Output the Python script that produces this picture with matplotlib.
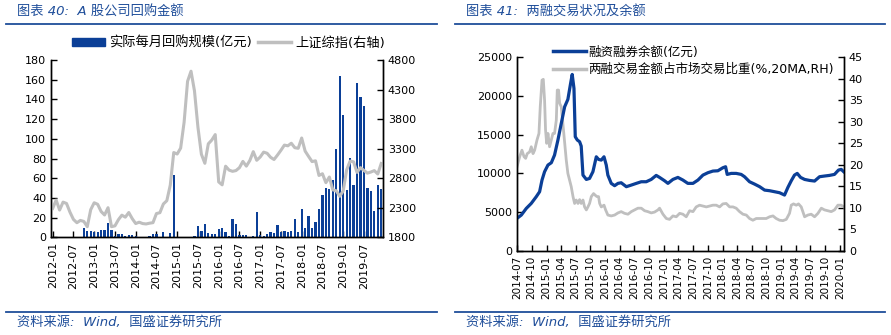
import numpy as np
import pandas as pd
import matplotlib
matplotlib.use("Agg")
import matplotlib.pyplot as plt
import matplotlib.dates as mdates
from matplotlib.lines import Line2D
from matplotlib.patches import Patch

plt.rcParams['font.family'] = ['DejaVu Sans', 'Noto Sans CJK SC']
plt.rcParams['axes.unicode_minus'] = False

BLUE = '#0B3F97'
GRAY = '#BFBFBF'
TITLE_BLUE = '#1F4E9A'

# ---- 图表40: 回购金额 (月度, 2012-01 ~ 2019-12)
buyback = [0, 0, 0, 0, 0, 0, 0, 0, 0, 9.5,
           6.4, 6.4, 5.4, 5.4, 7.4, 7.4, 14.5, 7.4, 1.4, 3.4,
           3.4, 1.4, 2.4, 2.4, 1.4, 0, 0, 0, 1.4, 3.4,
           3.4, 0, 5.4, 0, 4.4, 63.6, 0, 0, 0, 0,
           0, 1.4, 11.5, 6.8, 13.5, 4.4, 3.4, 3.4, 8.5, 9.5,
           5.4, 1.4, 18.6, 13.5, 2.4, 2.4, 2.4, 0, 1.4, 25.7,
           2.4, 1.4, 3.4, 5.4, 4.4, 12.5, 5.8, 6.4, 5.8, 6.4,
           18.6, 5.8, 28.8, 9.5, 21.7, 9.5, 15.6, 28.8, 43, 50,
           49, 58, 89.6, 163.5, 124.5, 48, 80.5, 53, 156.5, 143,
           133.5, 50, 47, 26.7, 53, 49]
shci = [2290, 2430, 2262, 2396, 2373, 2225, 2103, 2047, 2086, 2069,
        1980, 2269, 2385, 2359, 2237, 2178, 2301, 1980, 1994, 2098,
        2175, 2141, 2220, 2116, 2033, 2056, 2033, 2026, 2039, 2048,
        2202, 2217, 2364, 2420, 2683, 3235, 3210, 3310, 3748, 4441,
        4612, 4278, 3664, 3206, 3053, 3383, 3446, 3539, 2738, 2688,
        3004, 2938, 2917, 2930, 2979, 3085, 3005, 3100, 3250, 3104,
        3159, 3242, 3223, 3155, 3117, 3192, 3273, 3361, 3349, 3393,
        3317, 3307, 3481, 3259, 3169, 3082, 3095, 2847, 2876, 2725,
        2821, 2603, 2588, 2494, 2585, 2941, 3091, 3078, 2899, 2979,
        2933, 2886, 2905, 2929, 2872, 3050]
month_labels = ['2012-01', '2012-07', '2013-01', '2013-07', '2014-01', '2014-07',
                '2015-01', '2015-07', '2016-01', '2016-07', '2017-01', '2017-07',
                '2018-01', '2018-07', '2019-01', '2019-07']

# ---- 图表41: 两融余额 (亿元) 与 两融交易占比 (%)
margin_dates = ['2014-07-01', '2014-07-28', '2014-08-28', '2014-09-28', '2014-10-29', '2014-11-19',
                '2014-12-04', '2014-12-20', '2015-01-10', '2015-01-31', '2015-02-20', '2015-03-13',
                '2015-04-03', '2015-04-24', '2015-05-14', '2015-05-31', '2015-06-10', '2015-06-21',
                '2015-06-29', '2015-07-12', '2015-07-26', '2015-08-05', '2015-08-16', '2015-09-06',
                '2015-09-26', '2015-10-17', '2015-11-07', '2015-11-21', '2015-12-08', '2015-12-25',
                '2016-01-08', '2016-01-18', '2016-02-08', '2016-02-29', '2016-03-21', '2016-04-10',
                '2016-05-12', '2016-06-12', '2016-07-13', '2016-08-13', '2016-09-13', '2016-10-14',
                '2016-11-14', '2016-12-05', '2017-01-05', '2017-01-26', '2017-02-26', '2017-03-29',
                '2017-04-29', '2017-05-30', '2017-07-01', '2017-08-01', '2017-09-01', '2017-10-02',
                '2017-11-02', '2017-12-03', '2018-01-03', '2018-01-20', '2018-01-30', '2018-02-24',
                '2018-03-27', '2018-04-27', '2018-05-18', '2018-06-18', '2018-07-19', '2018-08-20',
                '2018-09-20', '2018-10-21', '2018-11-21', '2018-12-22', '2019-01-22', '2019-02-12',
                '2019-03-05', '2019-03-25', '2019-04-11', '2019-05-02', '2019-05-27', '2019-06-27',
                '2019-07-28', '2019-08-28', '2019-09-28', '2019-10-29', '2019-11-29', '2019-12-24',
                '2020-01-10', '2020-01-25']
margin_bal = [4180, 4610, 5470, 6120, 6980, 7630,
              9140, 10220, 11080, 11380, 12370, 14310,
              16470, 18620, 19570, 21640, 22800, 20990,
              14740, 14310, 14100, 13530, 9780, 9220,
              9350, 10220, 12150, 11810, 11720, 12150,
              11080, 9780, 8710, 8410, 8710, 8790,
              8280, 8490, 8710, 8920, 8920, 9220,
              9740, 9480, 9050, 8710, 9220, 9480,
              9140, 8710, 8710, 9140, 9780, 10090,
              10300, 10340, 10730, 10860, 9870, 10000,
              10000, 9870, 9570, 8920, 8620, 8280,
              7840, 7760, 7630, 7500, 7200, 8190,
              9050, 9780, 10000, 9480, 9220, 9090,
              9010, 9570, 9660, 9740, 9870, 10430,
              10520, 10220]

ratio_dates = ['2014-07-01', '2014-07-18', '2014-08-01', '2014-08-14', '2014-08-24', '2014-09-03',
               '2014-09-18', '2014-09-28', '2014-10-09', '2014-10-19', '2014-11-03', '2014-11-15',
               '2014-11-23', '2014-12-04', '2014-12-12', '2014-12-20', '2014-12-26', '2015-01-02',
               '2015-01-10', '2015-01-20', '2015-01-31', '2015-02-10', '2015-02-20', '2015-03-03',
               '2015-03-09', '2015-03-17', '2015-03-24', '2015-04-03', '2015-04-13', '2015-04-24',
               '2015-05-04', '2015-05-14', '2015-05-25', '2015-06-04', '2015-06-15', '2015-06-25',
               '2015-07-05', '2015-07-16', '2015-07-26', '2015-08-05', '2015-08-16', '2015-08-26',
               '2015-09-06', '2015-09-16', '2015-09-26', '2015-10-07', '2015-10-21', '2015-11-01',
               '2015-11-11', '2015-11-21', '2015-11-28', '2015-12-08', '2015-12-25', '2016-01-04',
               '2016-01-18', '2016-02-08', '2016-02-29', '2016-03-21', '2016-04-10', '2016-05-01',
               '2016-05-22', '2016-06-12', '2016-07-02', '2016-07-23', '2016-08-13', '2016-09-03',
               '2016-09-23', '2016-10-14', '2016-11-04', '2016-11-25', '2016-12-05', '2016-12-26',
               '2017-01-16', '2017-02-05', '2017-02-26', '2017-03-19', '2017-04-09', '2017-04-29',
               '2017-05-20', '2017-06-10', '2017-07-01', '2017-07-21', '2017-08-11', '2017-09-01',
               '2017-09-22', '2017-10-12', '2017-11-02', '2017-11-23', '2017-12-14', '2018-01-03',
               '2018-01-24', '2018-02-14', '2018-03-07', '2018-03-27', '2018-04-17', '2018-05-08',
               '2018-05-29', '2018-06-18', '2018-07-09', '2018-07-30', '2018-08-20', '2018-09-10',
               '2018-09-30', '2018-10-21', '2018-11-11', '2018-12-01', '2018-12-22', '2019-01-12',
               '2019-02-02', '2019-02-22', '2019-03-05', '2019-03-19', '2019-04-05', '2019-04-19',
               '2019-05-06', '2019-05-27', '2019-06-16', '2019-07-07', '2019-07-28', '2019-08-18',
               '2019-09-08', '2019-09-28', '2019-10-19', '2019-11-09', '2019-11-29', '2019-12-20',
               '2020-01-10', '2020-01-25']
ratio = [19.5, 21.9, 23.4, 21.9, 21.5, 22.6,
         23.0, 24.2, 22.6, 23.4, 25.8, 27.3,
         33.5, 39.7, 39.9, 35.0, 28.1, 25.0,
         27.3, 24.2, 25.8, 27.3, 27.3, 30.4,
         37.4, 37.4, 34.3, 33.5, 29.6, 25.0,
         21.1, 18.0, 16.4, 14.9, 12.6, 11.0,
         11.8, 11.0, 11.9, 11.0, 11.8, 10.2,
         9.5, 10.2, 11.0, 12.6, 13.3, 12.9,
         12.6, 12.6, 11.0, 10.2, 10.6, 9.5,
         8.3, 8.1, 8.3, 8.8, 9.1, 8.7,
         8.5, 9.1, 9.5, 9.9, 9.9, 9.3,
         9.1, 8.8, 9.0, 9.5, 9.9, 8.5,
         7.5, 7.3, 8.1, 7.9, 8.7, 8.5,
         7.9, 9.3, 9.1, 10.2, 10.6, 10.4,
         10.2, 10.4, 10.6, 10.6, 10.2, 10.9,
         11.0, 10.2, 10.2, 9.9, 9.1, 8.5,
         8.3, 7.5, 7.1, 7.5, 7.5, 7.5,
         7.5, 7.9, 8.1, 7.5, 7.1, 7.0,
         7.3, 8.7, 10.6, 10.9, 10.6, 10.9,
         10.2, 7.9, 8.3, 8.5, 7.9, 8.7,
         9.9, 9.5, 9.3, 9.1, 9.5, 10.6,
         10.6, 10.2]

fig = plt.figure(figsize=(8.91, 3.35), dpi=100)


def style_axis(ax):
    ax.spines['top'].set_visible(False)
    ax.tick_params(direction='in', length=4, width=1, labelsize=8, colors='black')
    for s in ax.spines.values():
        s.set_linewidth(1)


# ---------------- left chart ----------------
ax1 = fig.add_axes([0.0572, 0.2916, 0.3726, 0.529])
x = np.arange(len(buyback))
ax1.bar(x, buyback, width=0.65, color=BLUE, zorder=2)
ax1.set_xlim(-0.5, len(buyback) - 0.5)
ax1.set_ylim(0, 180)
ax1.set_yticks(np.arange(0, 181, 20))
ax1.set_xticks(np.arange(0, len(buyback), 6))
ax1.set_xticklabels(month_labels, rotation=90)
style_axis(ax1)

ax1r = ax1.twinx()
ax1r.plot(x, shci, color=GRAY, lw=2.2)
ax1r.set_ylim(1800, 4800)
ax1r.set_yticks(np.arange(1800, 4801, 500))
style_axis(ax1r)
ax1r.spines['top'].set_visible(False)

fig.legend(handles=[Patch(color=BLUE), Line2D([], [], color=GRAY, lw=2.5)],
           labels=['实际每月回购规模(亿元)', '上证综指(右轴)'],
           loc='center left', bbox_to_anchor=(0.073, 0.872), ncol=2, frameon=False,
           fontsize=9.5, handlelength=2.5, handleheight=0.55, handletextpad=0.3,
           columnspacing=0.5, borderpad=0)

# ---------------- right chart ----------------
ax2 = fig.add_axes([0.5802, 0.2516, 0.367, 0.577])
ax2r = ax2.twinx()
ax2r.plot(pd.to_datetime(ratio_dates), ratio, color=GRAY, lw=2.0)
ax2.plot(pd.to_datetime(margin_dates), margin_bal, color=BLUE, lw=2.3)
ax2.set_zorder(ax2r.get_zorder() + 1)
ax2.patch.set_visible(False)
ax2.set_ylim(0, 25000)
ax2.set_yticks(np.arange(0, 25001, 5000))
ax2r.set_ylim(0, 45)
ax2r.set_yticks(np.arange(0, 46, 5))
ax2.set_xlim(pd.Timestamp('2014-07-01'), pd.Timestamp('2020-01-27'))
ax2.xaxis.set_major_locator(mdates.MonthLocator(bymonth=[1, 4, 7, 10]))
ax2.xaxis.set_major_formatter(mdates.DateFormatter('%Y-%m'))
style_axis(ax2)
style_axis(ax2r)
ax2.tick_params(axis='x', labelrotation=90, labelsize=7.5)

fig.legend(handles=[Line2D([], [], color=BLUE, lw=2.5), Line2D([], [], color=GRAY, lw=2.5)],
           labels=['融资融券余额(亿元)', '两融交易金额占市场交易比重(%,20MA,RH)'],
           loc='upper left', bbox_to_anchor=(0.614, 0.882), ncol=1, frameon=False,
           fontsize=9, handlelength=2.6, handletextpad=0.2, labelspacing=0.35, borderpad=0)

# ---------------- titles / footers ----------------
for x0, x1, title in [(0.007, 0.49, '图表 40:  A 股公司回购金额'),
                      (0.511, 0.993, '图表 41:  两融交易状况及余额')]:
    fig.text(x0 + 0.012, 0.963, title, color=TITLE_BLUE, fontsize=9.5,
             style='italic', va='center', ha='left')
    fig.text(x0 + 0.012, 0.038, '资料来源:  Wind,  国盛证券研究所', color=TITLE_BLUE,
             fontsize=9.5, style='italic', va='center', ha='left')
    fig.add_artist(Line2D([x0, x1], [0.928, 0.928], color=TITLE_BLUE, lw=1.3))
    fig.add_artist(Line2D([x0, x1], [0.069, 0.069], color=TITLE_BLUE, lw=1.3))

fig.savefig('out.png', dpi=100)
